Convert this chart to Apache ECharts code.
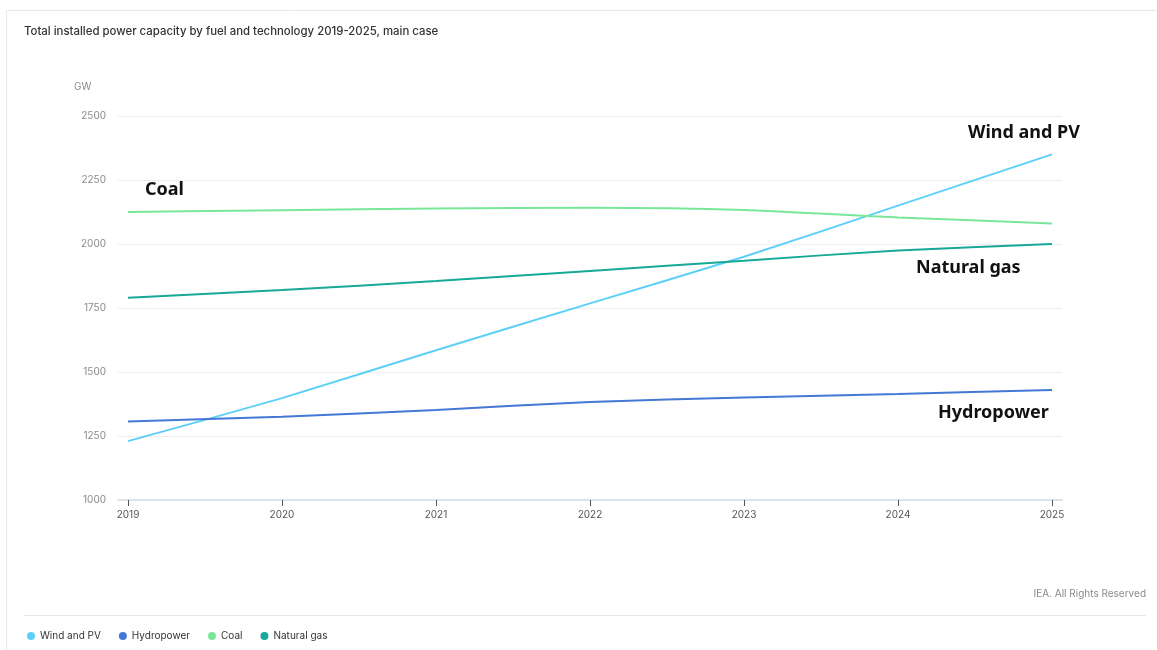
<!DOCTYPE html>
<html>
<head>
<meta charset="utf-8">
<style>
html,body{margin:0;padding:0;background:#fff;}
#chart{width:1157px;height:650px;}
</style>
<script src="https://cdn.jsdelivr.net/npm/echarts@6/dist/echarts.min.js"></script>
</head>
<body>
<div id="chart"></div>
<script>
const years = [2019, 2020, 2021, 2022, 2023, 2024, 2025];
const windPV = [1230, 1398, 1585, 1768, 1950, 2150, 2350];
const hydro = [1307, 1325, 1352, 1383, 1400, 1414, 1430];
const coal = [2125, 2132, 2139, 2142, 2133, 2104, 2080];
const gas = [1790, 1820, 1855, 1895, 1935, 1975, 2000];
const seriesNames = ['Wind and PV', 'Hydropower', 'Coal', 'Natural gas'];
const colors = ['#5DD0F8', '#4478D4', '#79E79A', '#16A898'];
const yTicks = [1000, 1250, 1500, 1750, 2000, 2250, 2500];

const chart = echarts.init(document.getElementById('chart'));
const pairs = arr => years.map((y, i) => [y, arr[i]]);
const dataSets = [windPV, hydro, coal, gas];
const font = 'Inter, "Noto Sans", sans-serif';
const annoFont = '"Noto Sans", "DejaVu Sans", sans-serif';

chart.setOption({
  animation: false,
  color: colors,
  grid: {left: 118, right: 95, top: 116, bottom: 150, containLabel: false},
  xAxis: {
    type: 'value', min: 2018.935, max: 2025.065,
    axisLine: {show: true, lineStyle: {color: '#dde3ea', width: 2}},
    axisTick: {show: true, customValues: years, length: 6, lineStyle: {color: '#555'}},
    axisLabel: {customValues: years, formatter: v => String(v), color: '#555', fontSize: 10, fontFamily: font, margin: 10},
    splitLine: {show: false}
  },
  yAxis: {
    type: 'value', min: 1000, max: 2500, interval: 250,
    axisLine: {show: false}, axisTick: {show: false},
    axisLabel: {color: '#8a8a8a', fontSize: 10, fontFamily: font, margin: 12, formatter: v => String(v)},
    splitLine: {lineStyle: {color: '#eeeeee', width: 1}}
  },
  legend: {
    data: seriesNames, left: 22, top: 626, icon: 'circle', itemWidth: 8, itemHeight: 8, itemGap: 18,
    textStyle: {color: '#333', fontSize: 10, fontFamily: font}
  },
  series: seriesNames.map((n, i) => ({
    name: n, type: 'line', data: pairs(dataSets[i]), smooth: 0.2, showSymbol: false,
    lineStyle: {width: 2, color: colors[i]}, itemStyle: {color: colors[i]}
  })),
  graphic: [
    {type: 'rect', shape: {x: 6.5, y: 10.5, width: 1170, height: 660}, style: {fill: 'none', stroke: '#e9e9e9', lineWidth: 1}, silent: true},
    {type: 'text', left: 24, top: 26, style: {text: 'Total installed power capacity by fuel and technology 2019-2025, main case', fill: '#333', font: '500 11.4px ' + font}},
    {type: 'text', left: 74, top: 82, style: {text: 'GW', fill: '#8a8a8a', font: '10px ' + font}},
    {type: 'line', shape: {x1: 24, y1: 615.5, x2: 1146, y2: 615.5}, style: {stroke: '#e6e6e6', lineWidth: 1}},
    {type: 'text', right: 11, top: 589, style: {text: 'IEA. All Rights Reserved', fill: '#8a8a8a', font: '10px ' + font}},
    {type: 'text', left: 145, top: 181, style: {text: 'Coal', fill: '#111', font: 'bold 18px ' + annoFont}},
    {type: 'text', left: 968, top: 124, style: {text: 'Wind and PV', fill: '#111', font: 'bold 18px ' + annoFont}},
    {type: 'text', left: 916, top: 259, style: {text: 'Natural gas', fill: '#111', font: 'bold 18px ' + annoFont}},
    {type: 'text', left: 938, top: 404, style: {text: 'Hydropower', fill: '#111', font: 'bold 18px ' + annoFont}}
  ]
});
</script>
</body>
</html>
